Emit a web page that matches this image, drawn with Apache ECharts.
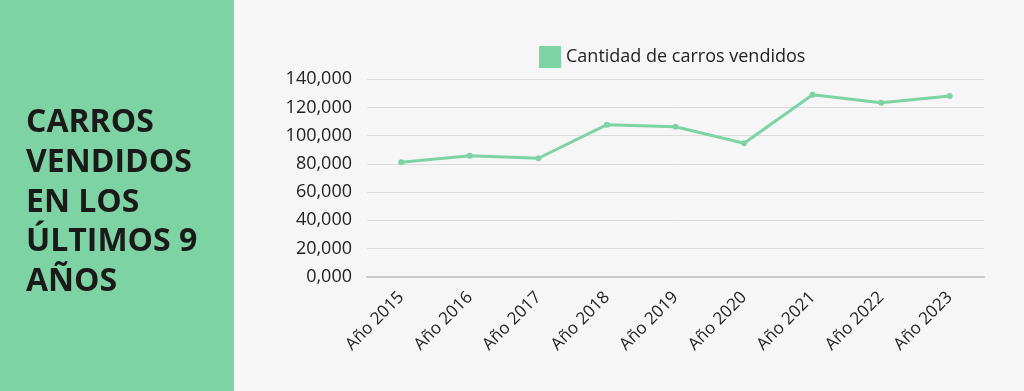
<!DOCTYPE html>
<html><head><meta charset="utf-8">
<script src="https://cdn.jsdelivr.net/npm/echarts@6/dist/echarts.min.js"></script>
<style>html,body{margin:0;padding:0;background:#f6f6f6}#c{width:1024px;height:391px}</style>
</head><body><div id="c"></div>
<script>
const categories = ['Año 2015','Año 2016','Año 2017','Año 2018','Año 2019','Año 2020','Año 2021','Año 2022','Año 2023'];
const sales = [81100, 85800, 84000, 107800, 106400, 94600, 129100, 123400, 128200];
const seriesName = 'Cantidad de carros vendidos';
const titleLines = ['CARROS','VENDIDOS','EN LOS','ÚLTIMOS 9','AÑOS'];

const chart = echarts.init(document.getElementById('c'));
chart.setOption({
  backgroundColor: '#f6f6f6',
  animation: false,
  graphic: [{type:'rect', shape:{x:0,y:0,width:234,height:391}, style:{fill:'#7ed3a4'}, z:-1}],
  title: {
    text: titleLines.join('\n'), left: 26, top: 103, padding: 0,
    textStyle: {fontFamily:'Open Sans', fontWeight:'bold', fontSize:32, lineHeight:39.8, color:'#1a1a1a'}
  },
  legend: {
    data: [seriesName], top: 46, left: 539, padding: 0, icon: 'rect', itemWidth: 22, itemHeight: 22, itemGap: 7,
    textStyle: {fontFamily:'Open Sans', fontSize:18, color:'#222'}
  },
  grid: {left: 367, right: 40, top: 79.3, bottom: 114.3, containLabel: false},
  xAxis: {
    type: 'category', data: categories, boundaryGap: true,
    axisLine: {lineStyle:{color:'#c8c8c8', width:2}}, axisTick:{show:false},
    axisLabel: {rotate:45, fontFamily:'Open Sans', fontSize:17, color:'#222', margin:18, interval:0}
  },
  yAxis: {
    type: 'value', min: 0, max: 140000, interval: 20000,
    axisLine:{show:false}, axisTick:{show:false},
    splitLine:{lineStyle:{color:'#dcdcdc', width:1}},
    axisLabel: {fontFamily:'Open Sans', fontSize:18, color:'#222', margin:15,
      formatter: v => { const k = Math.floor(v/1000); return k + ',000'; }}
  },
  series: [{
    name: seriesName, type: 'line', data: sales,
    symbol: 'circle', symbolSize: 6,
    lineStyle: {color:'#7ed3a4', width:3}, itemStyle: {color:'#7ed3a4'}
  }]
});
</script></body></html>
